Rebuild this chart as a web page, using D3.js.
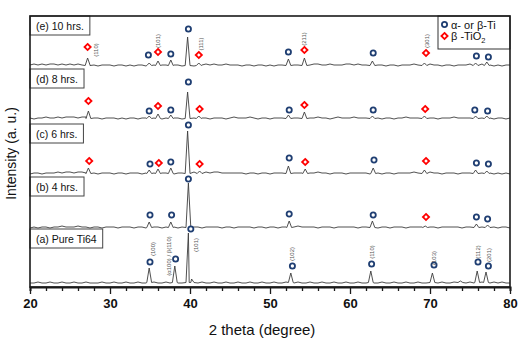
<!DOCTYPE html>
<html><head><meta charset="utf-8">
<script src="https://cdn.jsdelivr.net/npm/d3@7"></script>
<style>
body{margin:0;background:#fff}
svg{display:block}
text{font-family:"Liberation Sans",Arial,sans-serif}
</style>
</head><body>
<svg id="chart" width="526" height="348"></svg>
<script>
// ---------------- DATA ----------------
const sampleStart = 20, sampleStep = 0.5;        // background samples every 0.5 deg, 20..80
const seriesNames = ["(a) Pure Ti64", "(b) 4 hrs.", "(c) 6 hrs.", "(d) 8 hrs.", "(e) 10 hrs."];
const seriesOffsets = [4, 59, 113, 168, 221];     // vertical stacking offsets (a.u.)
const xTickValues = [20,22,24,26,28,30,32,34,36,38,40,42,44,46,48,50,52,54,56,58,60,62,64,66,68,70,72,74,76,78,80];
const xTickLabels = [20,30,40,50,60,70,80];

// background noise (a.u.)
const noiseA = [0,0,1,0,0,1,0,0,1,0, 0,1,0,0,1,0,0,0,1,0, 0,1,0,0,1,0,0,1,0,0, 0,1,0,0,1,0,1,0,0,1,
                1,0,0,1,0,0,1,0,0,1, 0,0,1,0,0,1,0,0,1,0, 0,1,0,0,1,0,0,1,0,0, 1,0,0,1,0,0,1,0,0,1,
                0,0,1,0,0,1,0,0,1,0, 0,1,0,0,1,0,0,1,0,0, 1,0,0,1,0,0,1,1,0,0, 1,0,0,1,0,0,1,0,1,0, 0];
const noiseB = [0,1,0,1,1,0,1,1,2,1, 1,1,2,1,1,0,1,1,0,1, 1,1,0,1,1,1,0,1,1,0, 1,1,1,0,1,1,1,0,1,1,
                1,1,1,0,1,1,1,1,0,1, 1,0,1,1,1,1,0,1,1,0, 1,1,0,1,1,1,1,2,1,1, 1,1,0,1,1,1,0,1,1,1,
                1,1,0,1,1,1,1,0,1,1, 0,1,1,1,0,1,1,1,1,1, 1,1,0,1,1,1,1,1,0,1, 1,1,1,1,1,1,1,0,1,1, 0];
const noiseC = [0,1,1,0,1,1,1,2,1,2, 2,1,2,2,1,1,1,0,1,1, 1,0,1,1,0,1,1,1,0,1, 1,1,1,1,1,1,0,1,1,1,
                1,2,1,2,2,1,2,2,1,1, 1,1,1,1,0,1,1,0,1,1, 0,1,1,1,1,0,1,1,1,1, 1,1,2,1,1,0,1,1,1,0,
                1,1,1,1,1,0,1,1,0,1, 1,0,1,1,1,1,2,1,1,1, 2,1,1,0,1,1,1,0,1,1, 1,1,1,1,1,1,0,1,0,1, 0];
const noiseD = [1,0,1,1,2,1,1,2,1,2, 2,2,1,2,2,1,1,1,0,1, 1,1,0,1,0,1,1,0,1,1, 0,1,1,0,1,1,1,1,0,1,
                1,1,0,1,1,0,1,1,1,0, 1,2,1,1,1,2,1,0,1,1, 0,1,1,1,0,1,1,1,0,1, 1,1,2,1,1,0,1,2,1,1,
                1,2,1,1,1,0,1,1,0,1, 1,0,1,1,2,1,1,1,1,0, 1,1,0,1,1,1,2,1,1,1, 1,2,1,1,1,1,0,1,1,0, 1];
const noiseE = [1,2,1,2,1,2,2,1,2,1, 2,1,2,1,2,1,1,0,1,1, 1,0,1,1,0,1,0,1,1,0, 1,1,0,1,1,0,1,1,0,1,
                1,0,1,1,2,1,2,1,1,2, 1,1,1,0,1,1,0,1,1,0, 1,0,1,1,1,0,1,1,0,1, 1,2,2,1,1,2,1,1,1,2,
                2,1,2,1,1,1,0,1,1,0, 1,1,0,1,1,1,2,1,1,1, 2,1,1,0,1,1,0,1,1,1, 2,1,1,2,1,1,0,1,0,1, 1];

// diffraction peaks: [2theta, intensity above background]
const peaksA = [[34.9,15],[38.1,17],[39.8,50],[40.2,4],[52.6,10],[62.6,12],[70.3,10],[73.8,2],[75.9,12],[77.0,11]];
const peaksB = [[34.9,6],[37.6,6],[39.8,45],[52.4,7],[62.8,7],[69.4,2],[75.8,4],[77.2,3]];
const peaksC = [[27.3,6],[34.9,4],[36.0,5],[37.6,6],[39.7,43],[41.2,3],[52.3,8],[54.4,5],[62.9,6],[69.3,4],[75.7,4],[77.1,3]];
const peaksD = [[27.3,8],[34.9,3],[36.0,5],[37.6,4],[39.7,27],[41.1,3],[52.3,4],[54.3,7],[62.8,3],[69.3,3],[75.7,3],[77.1,3]];
const peaksE = [[27.2,8],[34.9,3],[36.0,5],[37.6,6],[39.7,29],[41.1,3],[52.3,7],[54.3,8],[62.8,5],[69.3,3],[75.7,3],[77.1,4]];

// phase markers: [2theta, level above background, phase]  ti = alpha/beta-Ti, ox = beta-TiO2
const markersA = [[35.0,21,"ti"],[38.2,24,"ti"],[40.1,54,"ti"],[52.8,17,"ti"],[62.7,19,"ti"],[70.5,18,"ti"],[76.0,21,"ti"],[77.3,17,"ti"]];
const markersB = [[35.0,13,"ti"],[37.7,13,"ti"],[39.8,49,"ti"],[52.4,14,"ti"],[62.9,13,"ti"],[69.5,11,"ox"],[75.8,11,"ti"],[77.2,9,"ti"]];
const markersC = [[27.4,13,"ox"],[35.0,10,"ti"],[36.1,11,"ox"],[37.6,12,"ti"],[39.8,49,"ti"],[41.2,10,"ox"],[52.4,16,"ti"],[54.4,12,"ox"],[63.0,14,"ti"],[69.5,13,"ox"],[75.8,11,"ti"],[77.3,10,"ti"]];
const markersD = [[27.3,18,"ox"],[34.9,8,"ti"],[36.0,13,"ox"],[37.6,9,"ti"],[39.8,37,"ti"],[41.2,10,"ox"],[52.4,9,"ti"],[54.3,14,"ox"],[62.9,9,"ti"],[69.4,10,"ox"],[75.6,9,"ti"],[77.2,8,"ti"]];
const markersE = [[27.2,19,"ox"],[34.8,11,"ti"],[36.0,14,"ox"],[37.6,12,"ti"],[39.8,37,"ti"],[41.1,11,"ox"],[52.3,14,"ti"],[54.3,16,"ox"],[62.9,13,"ti"],[69.5,13,"ox"],[75.8,10,"ti"],[77.3,9,"ti"]];

// Miller index labels: [text, 2theta, level above background]
const hklA = [["(100)",35.4,34],["(α100) / β(110)",37.4,27],["(101)",40.7,38],["(102)",52.8,29],["(110)",62.8,31],["(103)",70.5,25],["(112)",76.0,31],["(201)",77.4,28]];
const hklE = [["(110)",28.3,16],["(101)",36.0,25],["(111)",41.4,22],["(211)",54.3,27],["(301)",69.6,25]];

const legendLabels = ["α- or β-Ti", "β -TiO"];

// ---------------- LAYOUT ----------------
const plot = {left: 30, right: 510, top: 16, bottom: 287};
const boxTops = [229, 177, 124, 69, 16];
const ink = "#1a1a1a", tiColor = "#1f3e72", oxColor = "#ff0000";

const svg = d3.select("#chart");
const x = d3.scaleLinear().domain([20, 80]).range([plot.left, plot.right]);
const y = d3.scaleLinear().domain([0, 271]).range([plot.bottom, plot.top]);

const noises = [noiseA, noiseB, noiseC, noiseD, noiseE];
const peaks = [peaksA, peaksB, peaksC, peaksD, peaksE];
const markers = [markersA, markersB, markersC, markersD, markersE];

const halfWidth = 0.3;
function buildSeries(noise, pk, off) {
  const pts = [];
  noise.forEach((v, i) => {
    const a = sampleStart + i * sampleStep;
    if (!pk.some(p => Math.abs(a - p[0]) < halfWidth)) pts.push([a, v]);
  });
  pk.forEach(p => { pts.push([p[0] - halfWidth, 0.5], [p[0], p[1]], [p[0] + halfWidth, 0.5]); });
  pts.sort((p, q) => p[0] - q[0]);
  return pts.map(([a, v]) => [a, v + off]);
}

const line = d3.line().x(d => x(d[0])).y(d => y(d[1]));

// traces
const gTraces = svg.append("g");
noises.forEach((n, i) => {
  gTraces.append("path")
    .attr("d", line(buildSeries(n, peaks[i], seriesOffsets[i])))
    .attr("fill", "none").attr("stroke", "#3c3c3c").attr("stroke-width", 0.9)
    .attr("stroke-linejoin", "round");
});

// markers
function drawMarker(g, cx, cy, kind) {
  if (kind === "ti") {
    g.append("circle").attr("cx", cx).attr("cy", cy).attr("r", 2.6)
      .attr("fill", "#fff").attr("stroke", tiColor).attr("stroke-width", 1.8);
  } else {
    const s = 3.1;
    g.append("path").attr("d", `M${cx},${cy - s}L${cx + s},${cy}L${cx},${cy + s}L${cx - s},${cy}Z`)
      .attr("fill", "#fff").attr("stroke", oxColor).attr("stroke-width", 1.8);
  }
}
const gMarks = svg.append("g");
markers.forEach((m, i) => {
  m.forEach(([a, lvl, kind]) => drawMarker(gMarks, x(a), y(seriesOffsets[i] + lvl), kind));
});

// hkl labels
function drawHkl(list, off) {
  list.forEach(([t, a, lvl]) => {
    const cx = x(a), cy = y(off + lvl);
    svg.append("text").attr("transform", `translate(${cx},${cy}) rotate(-90)`)
      .attr("text-anchor", "middle").attr("dominant-baseline", "central")
      .attr("font-size", 6).attr("fill", "#555").text(t);
  });
}
drawHkl(hklA, seriesOffsets[0]);
drawHkl(hklE, seriesOffsets[4]);

// panel label boxes
seriesNames.forEach((name, i) => {
  const g = svg.append("g");
  const rect = g.append("rect").attr("x", plot.left).attr("y", boxTops[i]).attr("height", 19)
    .attr("fill", "#fff").attr("stroke", "#444").attr("stroke-width", 1);
  const t = g.append("text").attr("x", plot.left + 6).attr("y", boxTops[i] + 13.5)
    .attr("font-size", 10.5).attr("fill", "#111").text(name);
  const w = t.node().getComputedTextLength();
  rect.attr("width", w + 12);
});

// legend
const lg = svg.append("g");
lg.append("rect").attr("x", 438).attr("y", plot.top).attr("width", plot.right - 438).attr("height", 33)
  .attr("fill", "#fff").attr("stroke", "#333").attr("stroke-width", 1);
drawMarker(lg, 444.5, 24.5, "ti");
drawMarker(lg, 444.5, 36, "ox");
lg.append("text").attr("x", 451).attr("y", 28.5).attr("font-size", 11).attr("fill", "#111").text(legendLabels[0]);
const t2 = lg.append("text").attr("x", 451).attr("y", 40).attr("font-size", 11).attr("fill", "#111").text(legendLabels[1]);
t2.append("tspan").attr("font-size", 7.5).attr("dy", 2.5).text("2");

// frame
svg.append("rect").attr("x", plot.left).attr("y", plot.top)
  .attr("width", plot.right - plot.left).attr("height", plot.bottom - plot.top)
  .attr("fill", "none").attr("stroke", ink).attr("stroke-width", 1.6);

// x axis
const xAxis = d3.axisBottom(x).tickValues(xTickValues).tickSize(4)
  .tickFormat(d => xTickLabels.includes(d) ? d : "");
const gx = svg.append("g").attr("transform", `translate(0,${plot.bottom})`).call(xAxis);
gx.select(".domain").attr("stroke", ink).attr("stroke-width", 2);
gx.selectAll(".tick line").attr("stroke", ink).attr("stroke-width", 1.3)
  .attr("y2", d => xTickLabels.includes(d) ? 7 : 4);
gx.selectAll(".tick text").attr("font-size", 13).attr("font-weight", "bold")
  .attr("fill", "#111").attr("y", 12).attr("font-family", '"Liberation Sans",Arial,sans-serif');

// axis titles
svg.append("text").attr("x", 262).attr("y", 335).attr("text-anchor", "middle")
  .attr("font-size", 15).attr("fill", "#111").text("2 theta (degree)");
svg.append("text").attr("transform", `translate(16,${(plot.top + plot.bottom) / 2 + 2}) rotate(-90)`)
  .attr("text-anchor", "middle").attr("font-size", 14).attr("fill", "#111").text("Intensity (a. u.)");
</script>
</body></html>
